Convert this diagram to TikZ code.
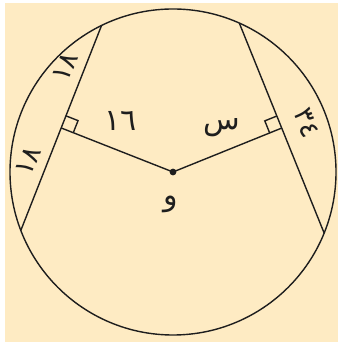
\documentclass[tikz,border=0pt]{standalone}
\usepackage{fontspec}
\newfontfamily\arabicfont[Script=Arabic]{DejaVu Sans}
\usetikzlibrary{calc}
\definecolor{bgbeige}{HTML}{FEEBC3}
\definecolor{ink}{HTML}{1E1E1E}
\begin{document}
\begin{tikzpicture}[x=1pt,y=1pt,
  geo/.style={draw=ink,line width=1.4pt},
  lbl/.style={font=\arabicfont\fontsize{30}{32}\selectfont,text=ink,inner sep=0pt},
  digit/.style={lbl,text height=15pt,text depth=0pt},
  sidedigit/.style={digit,font=\arabicfont\fontsize{27}{29}\selectfont,text height=13pt}]
\useasboundingbox (0,0) rectangle (338,344);
\fill[white] (0,0) rectangle (338,344);
\fill[bgbeige] (5,2) rectangle (338,341);
\coordinate (C) at (173,172);
\draw[geo] (C) circle (163);
\coordinate (L1) at ($(C)+(116:163)$);
\coordinate (L2) at ($(C)+(201:163)$);
\coordinate (R1) at ($(C)+(66:163)$);
\coordinate (R2) at ($(C)+(-22:163)$);
\coordinate (ML) at ($(L1)!0.5!(L2)$);
\coordinate (MR) at ($(R1)!0.5!(R2)$);
\draw[geo] (L1) -- (L2);
\draw[geo] (R1) -- (R2);
\draw[geo] (ML) -- (C) -- (MR);
\coordinate (la) at ($(ML)!13pt!(L1)$);
\coordinate (lb) at ($(ML)!13pt!(C)$);
\coordinate (ra) at ($(MR)!13pt!(R1)$);
\coordinate (rb) at ($(MR)!13pt!(C)$);
\draw[geo] (la) -- ($(la)+(lb)-(ML)$) -- (lb);
\draw[geo] (ra) -- ($(ra)+(rb)-(MR)$) -- (rb);
\fill[ink] (C) circle (3.4);
\node[sidedigit,rotate=68] (t1) at (67,276) {١٨};
\node[sidedigit,rotate=68] (t2) at (30,182) {١٨};
\node[digit] (t3) at (121,221) {١٦};
\node[lbl] (t4) at (222,216) {س};
\node[sidedigit,rotate=-68] (t5) at (305,220) {٣٤};
\node[lbl] (t6) at (171,140) {و};
\end{tikzpicture}
\end{document}
